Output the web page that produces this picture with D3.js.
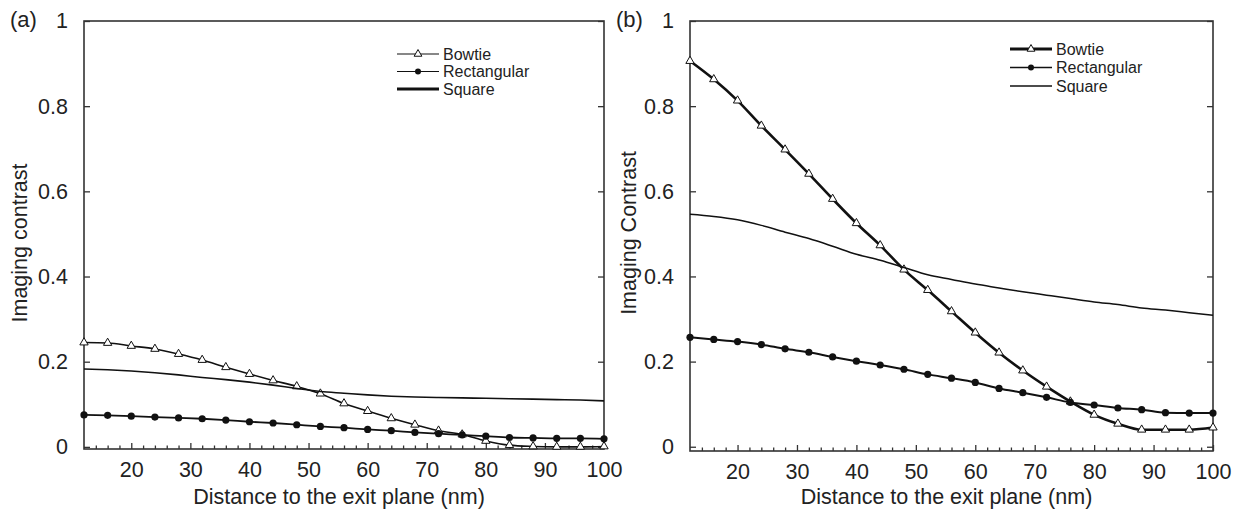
<!DOCTYPE html>
<html>
<head>
<meta charset="utf-8">
<script src="https://d3js.org/d3.v7.min.js"></script>
<style>
body { margin: 0; background: #fff; }
text { font-family: "Liberation Sans", Arial, sans-serif; fill: #222; }
.tick line { stroke: #333; stroke-width: 1.3; }
</style>
</head>
<body>
<svg id="chart" width="1236" height="511"></svg>
<script>
// distance to the exit plane (nm)
const distance = [12, 16, 20, 24, 28, 32, 36, 40, 44, 48, 52, 56, 60, 64, 68, 72, 76, 80, 84, 88, 92, 96, 100];

// panel (a)
const aBowtie = [0.245, 0.244, 0.237, 0.230, 0.218, 0.204, 0.187, 0.171, 0.156, 0.142, 0.125, 0.102, 0.084, 0.067, 0.052, 0.038, 0.029, 0.014, 0.004, 0.001, 0.000, 0.000, 0.001];
const aRect   = [0.075, 0.074, 0.072, 0.070, 0.068, 0.066, 0.063, 0.059, 0.056, 0.052, 0.048, 0.045, 0.041, 0.038, 0.034, 0.031, 0.028, 0.025, 0.022, 0.021, 0.020, 0.020, 0.019];
const aSquare = [0.183, 0.181, 0.178, 0.174, 0.169, 0.163, 0.158, 0.152, 0.145, 0.137, 0.130, 0.126, 0.122, 0.119, 0.117, 0.116, 0.115, 0.114, 0.113, 0.112, 0.111, 0.110, 0.108];

// panel (b)
const bBowtie = [0.906, 0.863, 0.813, 0.754, 0.698, 0.641, 0.582, 0.525, 0.473, 0.416, 0.368, 0.318, 0.268, 0.221, 0.179, 0.141, 0.106, 0.075, 0.054, 0.040, 0.040, 0.040, 0.045];
const bRect   = [0.257, 0.252, 0.247, 0.240, 0.230, 0.222, 0.211, 0.201, 0.192, 0.182, 0.170, 0.161, 0.151, 0.137, 0.127, 0.116, 0.104, 0.098, 0.091, 0.087, 0.080, 0.079, 0.079];
const bSquare = [0.546, 0.541, 0.533, 0.520, 0.504, 0.489, 0.471, 0.452, 0.438, 0.421, 0.404, 0.393, 0.382, 0.373, 0.364, 0.356, 0.348, 0.340, 0.334, 0.326, 0.321, 0.315, 0.309];

const seriesNames = ["Bowtie", "Rectangular", "Square"];
const xTickValues = [20, 30, 40, 50, 60, 70, 80, 90, 100];
const yTickValues = [0, 0.2, 0.4, 0.6, 0.8, 1];

const svg = d3.select("#chart");

function drawPanel(p) {
  var x = d3.scaleLinear().domain([12, 100]).range([p.left, p.right]);
  var y = d3.scaleLinear().domain([p.yMin, 1]).range([p.bottom, p.top]);
  var g = svg.append("g");

  // bottom axis, ticks pointing inward
  g.append("g").attr("transform", "translate(0," + p.bottom + ")")
    .call(d3.axisBottom(x).tickValues(xTickValues).tickSize(-6).tickPadding(13).tickFormat(d3.format("")))
    .call(a => a.select(".domain").remove())
    .selectAll("text").style("font-size", "21.5px").attr("fill", "#222");
  g.append("g").attr("transform", "translate(0," + p.bottom + ")")
    .call(d3.axisBottom(x).tickValues(d3.range(14, 100, 2).filter(v => v % 10 != 0)).tickSize(-3.5).tickFormat(""))
    .call(a => a.select(".domain").remove());

  // left + right axes
  g.append("g").attr("transform", "translate(" + p.left + ",0)")
    .call(d3.axisLeft(y).tickValues(yTickValues).tickSize(-6).tickPadding(16).tickFormat(d3.format("")))
    .call(a => a.select(".domain").remove())
    .selectAll("text").style("font-size", "21.5px").attr("fill", "#222");
  g.append("g").attr("transform", "translate(" + p.right + ",0)")
    .call(d3.axisRight(y).tickValues(yTickValues).tickSize(-6).tickFormat(""))
    .call(a => a.select(".domain").remove());

  // frame
  g.append("rect")
    .attr("x", p.left).attr("y", p.top)
    .attr("width", p.right - p.left).attr("height", p.bottom - p.top)
    .attr("fill", "none").attr("stroke", "#333").attr("stroke-width", 1.6);

  // labels
  g.append("text").attr("x", p.left - 74).attr("y", 27)
    .style("font-size", "22px").text(p.tag);
  g.append("text").attr("x", (p.left + p.right) / 2 - 5).attr("y", 504)
    .attr("text-anchor", "middle").style("font-size", "21.5px")
    .text("Distance to the exit plane (nm)");
  g.append("text")
    .attr("transform", "translate(" + p.yLabelX + "," + p.yLabelY + ") rotate(-90)")
    .attr("text-anchor", "middle").style("font-size", "21.5px")
    .text(p.yLabel);

  var line = d3.line()
    .x((d, i) => x(distance[i]))
    .y(d => y(d))
    .curve(d3.curveMonotoneX);

  var series = [
    {name: "Bowtie", values: p.bowtie, width: p.widths[0], marker: "tri"},
    {name: "Rectangular", values: p.rect, width: p.widths[1], marker: "dot"},
    {name: "Square", values: p.square, width: p.widths[2], marker: null}
  ];

  series.forEach(function(s) {
    g.append("path").datum(s.values)
      .attr("d", line)
      .attr("fill", "none").attr("stroke", "#111")
      .attr("stroke-width", s.width);
    if (s.marker == "tri") {
      g.selectAll(null).data(s.values).enter().append("path")
        .attr("d", d3.symbol(d3.symbolTriangle).size(30))
        .attr("transform", (d, i) => "translate(" + x(distance[i]) + "," + y(d) + ")")
        .attr("fill", "#fff").attr("stroke", "#111").attr("stroke-width", 1);
    } else if (s.marker == "dot") {
      g.selectAll(null).data(s.values).enter().append("circle")
        .attr("cx", (d, i) => x(distance[i]))
        .attr("cy", d => y(d))
        .attr("r", 3.6).attr("fill", "#111");
    }
  });

  // legend
  var leg = g.append("g");
  series.forEach(function(s, i) {
    var ly = p.legY[i];
    leg.append("line")
      .attr("x1", p.legX).attr("x2", p.legX + 42)
      .attr("y1", ly).attr("y2", ly)
      .attr("stroke", "#111").attr("stroke-width", p.legWidths[i]);
    if (s.marker == "tri") {
      leg.append("path").attr("d", d3.symbol(d3.symbolTriangle).size(26))
        .attr("transform", "translate(" + (p.legX + 21) + "," + ly + ")")
        .attr("fill", "#fff").attr("stroke", "#111").attr("stroke-width", 1);
    } else if (s.marker == "dot") {
      leg.append("circle").attr("cx", p.legX + 21).attr("cy", ly)
        .attr("r", 3).attr("fill", "#111");
    }
    leg.append("text").attr("x", p.legX + 46).attr("y", ly + 5.5)
      .style("font-size", "16px").attr("fill", "#333").text(s.name);
  });
}

drawPanel({
  tag: "(a)", left: 84, right: 604, top: 21, bottom: 449, yMin: -0.005,
  bowtie: aBowtie, rect: aRect, square: aSquare,
  widths: [1.6, 1.8, 1.6], legWidths: [1.2, 1.2, 3],
  legX: 397, legY: [54, 71.5, 89],
  yLabel: "Imaging contrast", yLabelX: 27, yLabelY: 243
});

drawPanel({
  tag: "(b)", left: 690, right: 1213, top: 21, bottom: 451, yMin: -0.01,
  bowtie: bBowtie, rect: bRect, square: bSquare,
  widths: [2.6, 2, 1.5], legWidths: [3, 1.3, 1.3],
  legX: 1010, legY: [49, 67.5, 86],
  yLabel: "Imaging Contrast", yLabelX: 636, yLabelY: 233
});
</script>
</body>
</html>
